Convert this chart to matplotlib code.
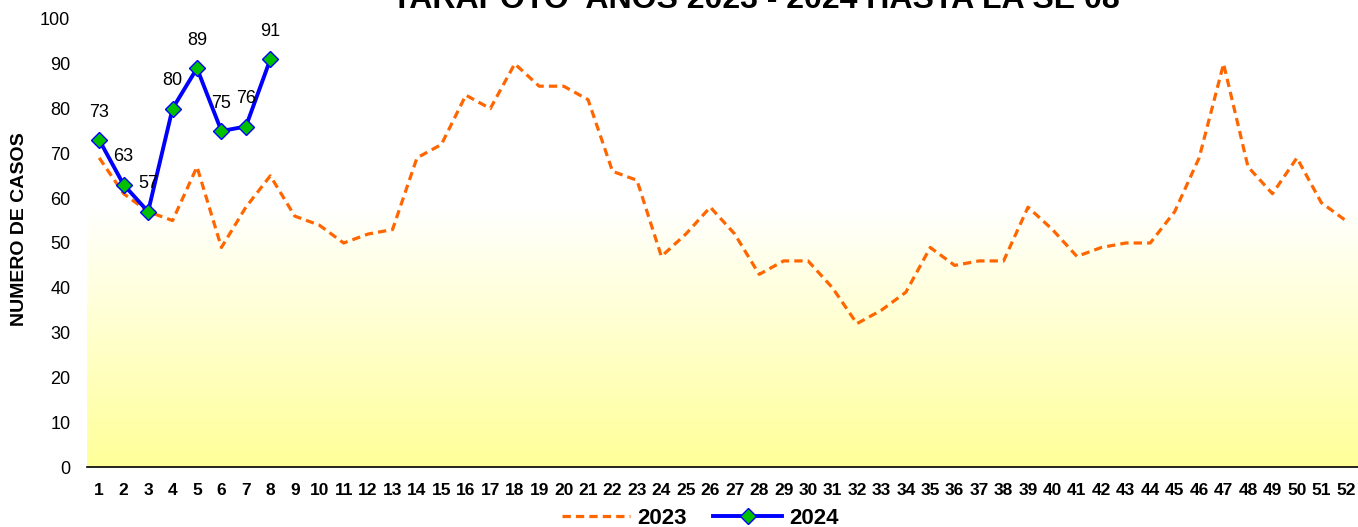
import numpy as np
import matplotlib
matplotlib.use("Agg")
import matplotlib.pyplot as plt
from matplotlib.colors import LinearSegmentedColormap

plt.rcParams['font.family'] = ['Liberation Sans', 'DejaVu Sans']

# semanas epidemiologicas
semanas = list(range(1, 53))

casos_2023 = [69, 61, 57, 55, 67, 49, 58, 65, 56, 54,
              50, 52, 53, 69, 72, 83, 80, 90, 85, 85,
              82, 66, 64, 47, 52, 58, 52, 43, 46, 46,
              40, 32, 35, 39, 49, 45, 46, 46, 58, 53,
              47, 49, 50, 50, 57, 69, 90, 67, 61, 69,
              59, 55]

semanas_2024 = [1, 2, 3, 4, 5, 6, 7, 8]
casos_2024 = [73, 63, 57, 80, 89, 75, 76, 91]

titulo = "TARAPOTO  AÑOS 2023 - 2024 HASTA LA SE 08"

fig = plt.figure(figsize=(13.58, 5.27), dpi=100)
ax = fig.add_axes([87 / 1358, 1 - 467 / 527, 1 - 87 / 1358, (467 - 19) / 527])

# fondo degradado blanco -> amarillo
cmap = LinearSegmentedColormap.from_list(
    "fondo", [(0.0, "#FFFF99"), (0.58, "#FFFFFF"), (1.0, "#FFFFFF")])
grad = np.linspace(0, 1, 256).reshape(-1, 1)
ax.imshow(grad, cmap=cmap, origin="lower", aspect="auto",
          extent=[0, 1, 0, 1], transform=ax.transAxes, zorder=0)

ax.plot(semanas, casos_2023, color="#FF6600", lw=2.3,
        linestyle=(0, (2.6, 1.6)), label="2023", zorder=2)
ax.plot(semanas_2024, casos_2024, color="#0000FF", lw=2.8,
        marker="D", markersize=8, markerfacecolor="#00C000",
        markeredgecolor="#0000FF", markeredgewidth=1.0,
        label="2024", zorder=3)

for x, y in zip(semanas_2024, casos_2024):
    ax.annotate(str(y), (x, y), xytext=(0, 20), textcoords="offset points",
                ha="center", va="center", fontsize=13)

ax.set_xlim(0.5, 52.5)
ax.set_ylim(0, 100)
ax.set_xticks(semanas)
ax.set_xticklabels([str(s) for s in semanas], fontsize=12.5, fontweight="bold")
ax.set_yticks(range(0, 101, 10))
ax.tick_params(axis="y", labelsize=13, length=0, pad=12)
ax.tick_params(axis="x", length=0, pad=11.5)

for s in ["top", "right", "left"]:
    ax.spines[s].set_visible(False)
ax.spines["bottom"].set_linewidth(1.2)
ax.spines["bottom"].set_zorder(4)

fig.text(20 / 1358, 1 - 229 / 527, "NUMERO DE CASOS", rotation=90,
         ha="center", va="center", fontsize=14, fontweight="bold")

fig.text(0.5 * (385 + 1127) / 1358, 1 - 8 / 527, titulo, ha="center",
         va="baseline", fontsize=23, fontweight="bold")

fig.legend(loc="center", bbox_to_anchor=(700 / 1358, 1 - 518 / 527),
           ncol=2, frameon=False, handlelength=3.1, handletextpad=0.3,
           columnspacing=1.2, prop={"size": 16, "weight": "bold"})

fig.savefig("out.png", dpi=100)
